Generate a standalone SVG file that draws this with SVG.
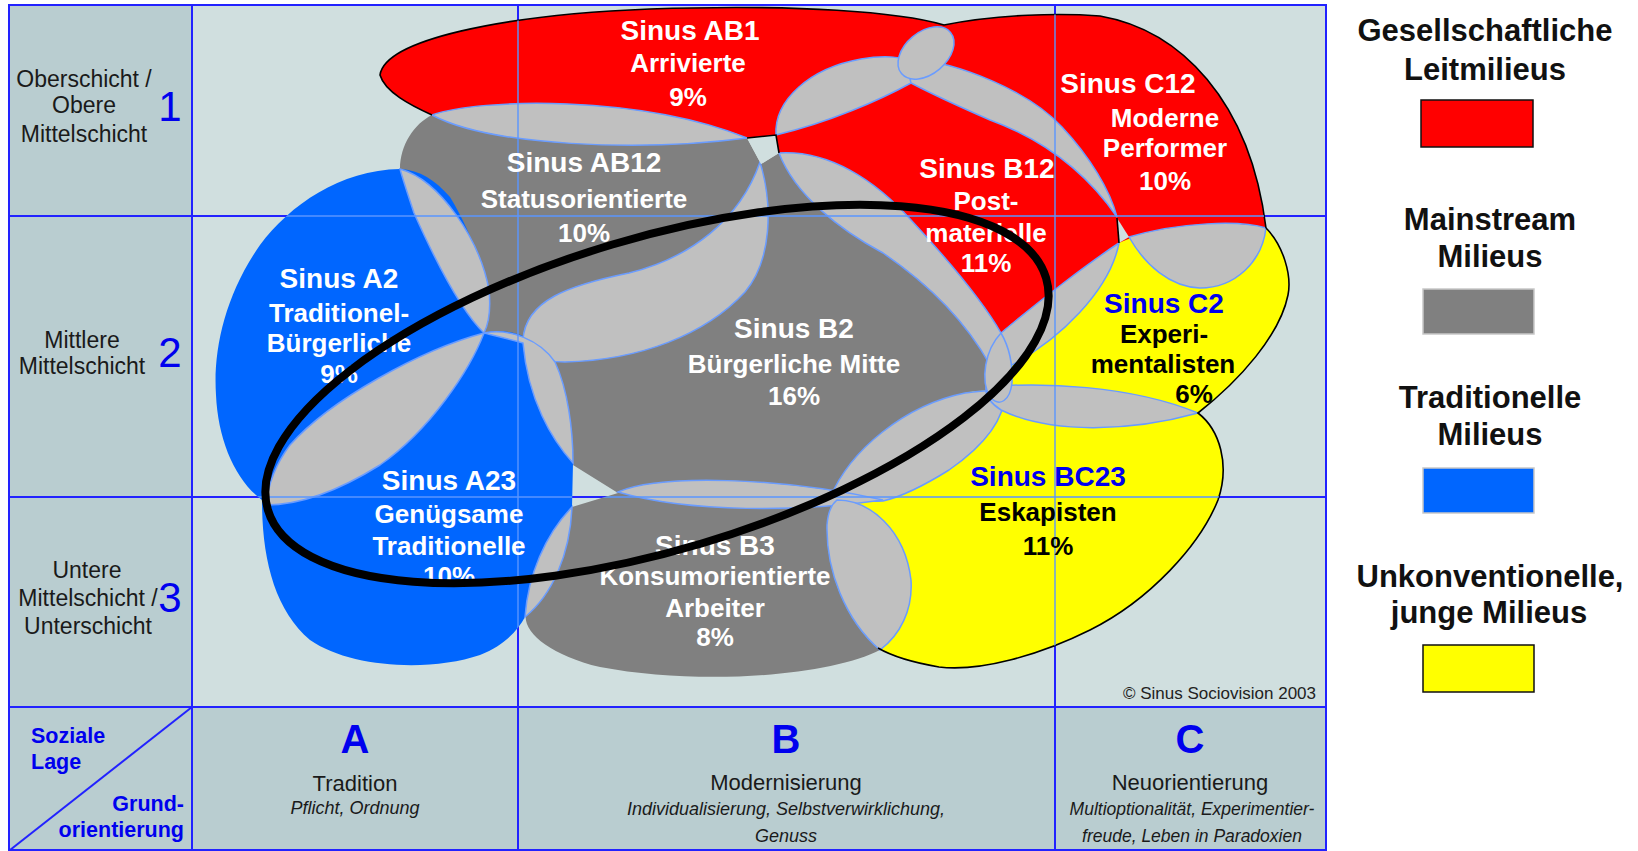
<svg xmlns="http://www.w3.org/2000/svg" xmlns:xlink="http://www.w3.org/1999/xlink" width="1638" height="851" viewBox="0 0 1638 851">
<style>
text{font-family:"Liberation Sans",Arial,sans-serif;text-anchor:middle}
.lens{fill:#c0c0c0;stroke:#6a9cff;stroke-width:1.5}
.gray{fill:#808080}
.blue{fill:#0066ff}
.red{fill:#ff0000}
.yel{fill:#ffff00}
.bg{fill:#d0dfdf}
.outl{fill:none;stroke:#000;stroke-width:1.6}
.gd{stroke:#2222ff;stroke-width:2;fill:none}
.gl{stroke:#5a96ff;stroke-width:1.4;fill:none}
.ti{fill:#fff;font-weight:bold;font-size:28px}
.st{fill:#fff;font-weight:bold;font-size:26px}
.tb{fill:#0000ee;font-size:28px;font-weight:bold}
.sk{fill:#000;font-weight:bold;font-size:26px}
.row{fill:#1a1a1a;font-size:23px}
.num{fill:#0000ee;font-size:42px}
.col{fill:#0000ee;font-size:40px;font-weight:bold}
.cn{fill:#1a1a1a;font-size:22px}
.ci{fill:#1a1a1a;font-size:18px;font-style:italic}
.lg{fill:#111;font-size:31px;font-weight:bold}
.ax{fill:#0000ee;font-size:21.5px;font-weight:bold}
</style>
<defs>
<path id="grayU" d="M 432,115 C 480,98 640,95 747,138 L 761,164 L 779,153 C 829,150 875,180 911,220 C 950,262 985,305 1001,333 C 1012,355 1012,385 1005,400 C 995,440 950,475 888,493 L 883,500 C 909,540 916,600 880,650 C 830,676 700,686 600,667 C 550,655 522,632 526,613 C 530,570 548,530 572,507 L 618,493 L 573,465 C 552,440 528,400 523,343 C 505,338 492,335 484,333 C 468,317 443,270 414,213 C 405,195 399,180 400,169 C 400,145 414,124 432,115 Z"/>
<path id="blueU" d="M 400,169 C 340,170 290,205 260,245 C 225,295 213,350 216,395 C 218,440 235,480 262,500 C 262,560 275,610 310,640 C 350,668 430,672 480,655 C 505,645 518,630 525,617 C 550,590 568,550 572,507 L 573,463 C 570,410 554,365 525,337 C 510,330 495,330 484,333 C 492,300 482,250 450,197 C 435,180 420,170 400,169 Z"/>
<path id="redU" d="M 380,75 C 385,40 500,15 650,9 C 800,4 900,12 944,25 C 1000,14 1060,13 1100,16 C 1180,30 1250,100 1266,228 L 1200,250 L 1119,243 C 1090,300 1050,345 1008,367 L 990,365 C 965,320 930,285 883,253 C 840,230 795,195 779,153 L 776,135 L 747,138 L 600,135 L 432,115 C 410,105 385,92 380,75 Z"/>
<path id="yelU" d="M 1119,243 C 1150,228 1230,220 1266,228 C 1283,245 1292,275 1288,295 C 1280,335 1240,380 1198,413 C 1220,430 1230,465 1218,500 C 1200,545 1150,600 1090,630 C 1040,655 980,672 939,667 C 910,662 890,655 878,648 C 845,620 826,570 827,525 C 828,512 832,504 837,492 C 850,450 905,405 965,393 C 980,390 995,390 1005,392 L 1001,333 C 1040,300 1090,262 1119,243 Z"/>
<clipPath id="shp"><use href="#grayU"/><use href="#blueU"/><use href="#redU"/><use href="#yelU"/></clipPath>
</defs>

<g id="background">
<rect x="0" y="0" width="1638" height="851" fill="#ffffff"/>
<rect x="9" y="5" width="1317" height="845" fill="#b9cdd0"/>
<rect x="192" y="5" width="1134" height="702" class="bg"/>
</g>

<g id="grid-under">
<rect x="9" y="5" width="1317" height="845" class="gd"/>
<line x1="192" y1="5" x2="192" y2="850" class="gd"/>
<line x1="518" y1="5" x2="518" y2="850" class="gd"/>
<line x1="1055" y1="5" x2="1055" y2="850" class="gd"/>
<line x1="9" y1="216" x2="1326" y2="216" class="gd"/>
<line x1="9" y1="497" x2="1326" y2="497" class="gd"/>
<line x1="9" y1="707" x2="1326" y2="707" class="gd"/>
<line x1="192" y1="707" x2="10" y2="850" class="gd"/>
</g>

<g id="shapes">
<use href="#grayU" class="gray"/>
<use href="#blueU" class="blue"/>
<use href="#redU" class="red"/>
<use href="#yelU" class="yel"/>
</g>

<g id="overlaps">
<path class="lens" d="M 432,115 C 480,98 640,95 747,138 C 640,152 490,146 432,115 Z"/>
<path class="lens" d="M 776,135 C 774,100 810,68 861,59 C 885,55 905,57 912,62 C 918,72 916,80 911,83 C 880,100 830,122 776,135 Z"/>
<path class="lens" d="M 905,58 C 960,62 1030,92 1062,127 C 1090,157 1110,190 1117,217 C 1090,178 1050,142 990,120 C 958,106 930,93 911,83 Z"/>
<ellipse class="lens" cx="926" cy="53" rx="32" ry="21" transform="rotate(-40 926 53)"/>
<path class="lens" d="M 779,153 C 829,150 875,180 911,220 C 950,262 985,305 1001,333 C 1000,345 995,355 990,365 C 965,320 930,285 883,253 C 840,230 795,195 779,153 Z"/>
<path class="lens" d="M 523,340 C 525,300 570,285 629,273 C 690,258 740,220 760,162 C 773,205 772,260 745,292 C 705,335 640,360 565,362 C 540,362 525,355 523,340 Z"/>
<path class="lens" d="M 400,169 C 440,180 480,240 489,290 C 491,310 488,325 484,333 C 460,310 435,260 414,213 C 408,195 403,180 400,169 Z"/>
<path class="lens" d="M 484,333 C 420,350 330,400 290,445 C 275,465 268,485 266,505 C 300,505 340,490 380,465 C 430,430 470,370 484,333 Z"/>
<path class="lens" d="M 484,333 C 510,328 540,340 555,362 C 568,390 573,430 573,463 C 552,440 528,400 523,343 C 505,338 492,335 484,333 Z"/>
<path class="lens" d="M 572,507 C 570,555 552,595 525,617 C 528,575 545,535 572,507 Z"/>
<path class="lens" d="M 830,498 C 850,450 905,405 965,393 C 985,390 1000,390 1005,392 C 1005,420 985,445 949,470 C 925,485 900,497 883,501 C 860,502 840,500 830,498 Z"/>
<path class="lens" d="M 618,492 C 660,474 780,477 883,500 C 800,512 690,513 618,492 Z"/>
<path class="lens" d="M 837,500 C 870,500 905,530 911,580 C 913,610 900,635 880,650 C 845,620 826,570 827,525 C 828,512 832,504 837,500 Z"/>
<path class="lens" d="M 986,387 C 1040,382 1130,385 1198,413 C 1130,432 1050,434 1001,410 C 990,403 985,395 986,387 Z"/>
<path class="lens" d="M 1001,333 C 1040,300 1090,262 1119,243 C 1110,290 1060,340 1008,367 C 1002,355 1000,345 1001,333 Z"/>
<path class="lens" d="M 1001,333 C 985,350 980,380 990,397 C 1000,408 1010,400 1012,383 C 1013,362 1008,345 1001,333 Z"/>
<path class="lens" d="M 1129,237 C 1180,222 1240,220 1266,228 C 1262,262 1235,288 1200,288 C 1170,287 1145,265 1129,237 Z"/>
<path class="bg" d="M 747,138 L 776,135 L 779,153 L 761,164 Z"/>
<path class="bg" d="M 1117,218 L 1129,237 L 1119,243 Z"/>
<path class="outl" d="M 747,138 L 776,135 L 779,153"/>
<path class="outl" d="M 1117,218 L 1119,243"/>
<path class="outl" d="M 432,115 C 410,105 385,92 380,75 C 385,40 500,15 650,9 C 800,4 900,12 944,25 C 1000,14 1060,13 1100,16 C 1180,30 1250,100 1266,228"/>
<path class="outl" d="M 1266,228 C 1283,245 1292,275 1288,295 C 1280,335 1240,380 1198,413 C 1220,430 1230,465 1218,500 C 1200,545 1150,600 1090,630 C 1040,655 980,672 939,667 C 910,662 890,655 878,648"/>
</g>

<g id="grid-over" clip-path="url(#shp)">
<line x1="518" y1="5" x2="518" y2="707" class="gl"/>
<line x1="1055" y1="5" x2="1055" y2="707" class="gl"/>
<line x1="192" y1="216" x2="1326" y2="216" class="gl"/>
<line x1="192" y1="497" x2="1326" y2="497" class="gl"/>
</g>

<g id="row-labels">
<text class="row" x="84" y="87">Oberschicht /</text>
<text class="row" x="84" y="113">Obere</text>
<text class="row" x="84" y="142">Mittelschicht</text>
<text class="num" x="170" y="121">1</text>
<text class="row" x="82" y="348">Mittlere</text>
<text class="row" x="82" y="374">Mittelschicht</text>
<text class="num" x="170" y="367">2</text>
<text class="row" x="87" y="578">Untere</text>
<text class="row" x="88" y="606">Mittelschicht /</text>
<text class="row" x="88" y="634">Unterschicht</text>
<text class="num" x="170" y="612">3</text>
</g>

<g id="axis-label">
<text class="ax" x="31" y="743" style="text-anchor:start">Soziale</text>
<text class="ax" x="31" y="769" style="text-anchor:start">Lage</text>
<text class="ax" x="184" y="811" style="text-anchor:end">Grund-</text>
<text class="ax" x="184" y="837" style="text-anchor:end">orientierung</text>
</g>

<g id="col-A">
<text class="col" x="355" y="753">A</text>
<text class="cn" x="355" y="791">Tradition</text>
<text class="ci" x="355" y="814">Pflicht, Ordnung</text>
</g>
<g id="col-B">
<text class="col" x="786" y="753">B</text>
<text class="cn" x="786" y="790">Modernisierung</text>
<text class="ci" x="786" y="815">Individualisierung, Selbstverwirklichung,</text>
<text class="ci" x="786" y="842">Genuss</text>
</g>
<g id="col-C">
<text class="col" x="1190" y="753">C</text>
<text class="cn" x="1190" y="790">Neuorientierung</text>
<text class="ci" x="1192" y="815" style="font-size:17.5px">Multioptionalität, Experimentier-</text>
<text class="ci" x="1192" y="842" style="font-size:17.5px">freude, Leben in Paradoxien</text>
</g>

<text x="1316" y="699" style="text-anchor:end;font-size:17px;fill:#222">© Sinus Sociovision 2003</text>

<g id="sinus-ab1">
<text class="ti" x="690" y="40">Sinus AB1</text>
<text class="st" x="688" y="72">Arrivierte</text>
<text class="st" x="688" y="106">9%</text>
</g>
<g id="sinus-ab12">
<text class="ti" x="584" y="172">Sinus AB12</text>
<text class="st" x="584" y="208">Statusorientierte</text>
<text class="st" x="584" y="242">10%</text>
</g>
<g id="sinus-a2">
<text class="ti" x="339" y="288">Sinus A2</text>
<text class="st" x="339" y="322">Traditionel-</text>
<text class="st" x="339" y="352">Bürgerliche</text>
<text class="st" x="339" y="383">9%</text>
</g>
<g id="sinus-a23">
<text class="ti" x="449" y="490">Sinus A23</text>
<text class="st" x="449" y="523">Genügsame</text>
<text class="st" x="449" y="555">Traditionelle</text>
<text class="st" x="449" y="585">10%</text>
</g>
<g id="sinus-b2">
<text class="ti" x="794" y="338">Sinus B2</text>
<text class="st" x="794" y="373">Bürgerliche Mitte</text>
<text class="st" x="794" y="405">16%</text>
</g>
<g id="sinus-b3">
<text class="ti" x="715" y="555">Sinus B3</text>
<text class="st" x="715" y="585">Konsumorientierte</text>
<text class="st" x="715" y="617">Arbeiter</text>
<text class="st" x="715" y="646">8%</text>
</g>
<g id="sinus-b12">
<text class="ti" x="987" y="178">Sinus B12</text>
<text class="st" x="986" y="210">Post-</text>
<text class="st" x="986" y="242">materielle</text>
<text class="st" x="986" y="272">11%</text>
</g>
<g id="sinus-c12">
<text class="ti" x="1128" y="93">Sinus C12</text>
<text class="st" x="1165" y="127">Moderne</text>
<text class="st" x="1165" y="157">Performer</text>
<text class="st" x="1165" y="190">10%</text>
</g>
<g id="sinus-c2">
<text class="tb" x="1164" y="313">Sinus C2</text>
<text class="sk" x="1164" y="343">Experi-</text>
<text class="sk" x="1163" y="373">mentalisten</text>
<text class="sk" x="1194" y="403">6%</text>
</g>
<g id="sinus-bc23">
<text class="tb" x="1048" y="486">Sinus BC23</text>
<text class="sk" x="1048" y="521">Eskapisten</text>
<text class="sk" x="1048" y="555">11%</text>
</g>

<g id="legend-leit">
<text class="lg" x="1485" y="41">Gesellschaftliche</text>
<text class="lg" x="1485" y="80">Leitmilieus</text>
<rect x="1421" y="100" width="112" height="47" fill="#ff0000" stroke="#111" stroke-width="1.5"/>
</g>
<g id="legend-main">
<text class="lg" x="1490" y="230">Mainstream</text>
<text class="lg" x="1490" y="267">Milieus</text>
<rect x="1423" y="289" width="111" height="45" fill="#808080" stroke="#c8c8c8" stroke-width="1.5"/>
</g>
<g id="legend-trad">
<text class="lg" x="1490" y="408">Traditionelle</text>
<text class="lg" x="1490" y="445">Milieus</text>
<rect x="1423" y="468" width="111" height="45" fill="#0066ff" stroke="#c8c8c8" stroke-width="1.5"/>
</g>
<g id="legend-unkonv">
<text class="lg" x="1490" y="587">Unkonventionelle,</text>
<text class="lg" x="1489" y="623">junge Milieus</text>
<rect x="1423" y="645" width="111" height="47" fill="#ffff00" stroke="#111" stroke-width="1.5"/>
</g>

<g id="focus-ellipse">
<ellipse cx="657" cy="394" rx="406" ry="156" transform="rotate(-16.6 657 394)" fill="none" stroke="#000" stroke-width="8"/>
</g>
</svg>
